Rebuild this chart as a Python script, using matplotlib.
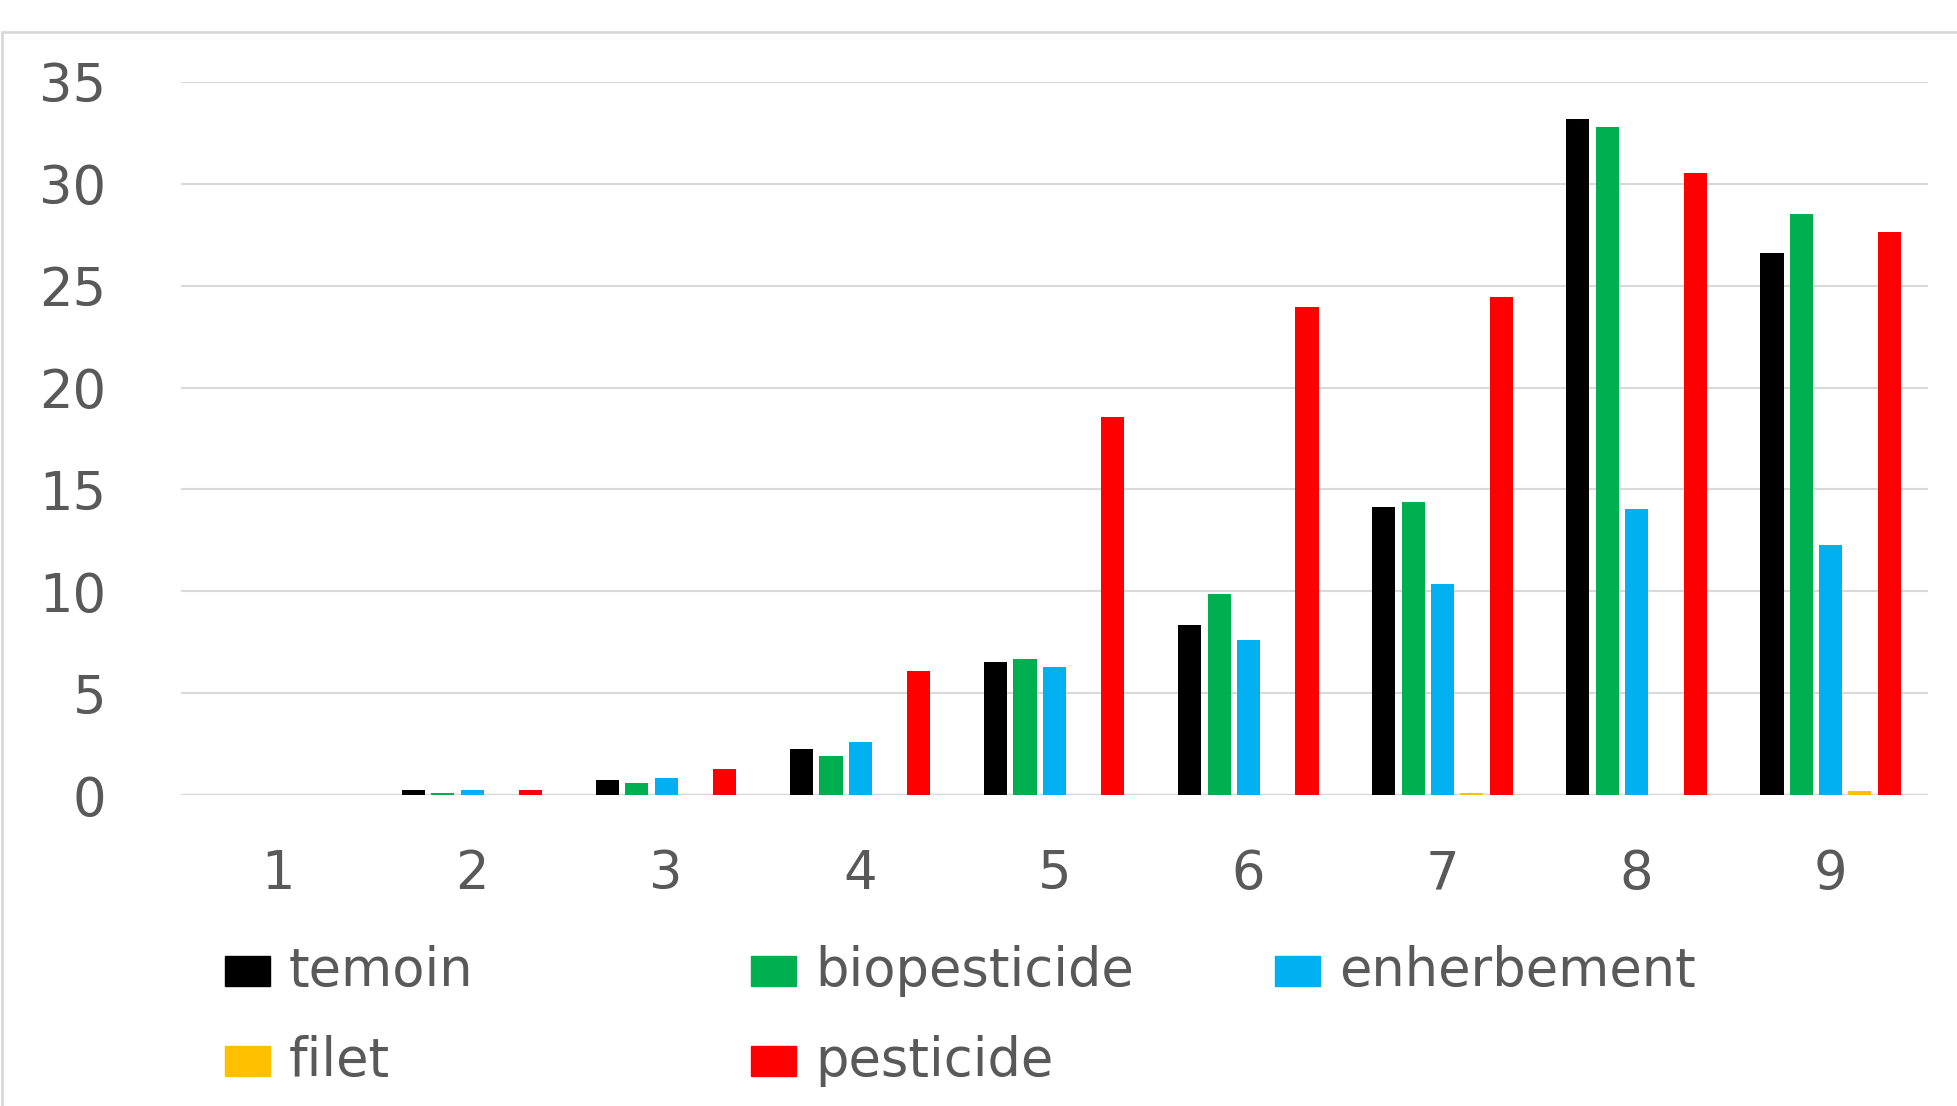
import matplotlib.pyplot as plt
from matplotlib.patches import Rectangle
import numpy as np

# categories and series
categories = ["1", "2", "3", "4", "5", "6", "7", "8", "9"]
temoin = [0, 0.25, 0.73, 2.27, 6.56, 8.34, 14.16, 33.17, 26.6]
biopesticide = [0, 0.1, 0.6, 1.9, 6.68, 9.87, 14.4, 32.8, 28.5]
enherbement = [0, 0.25, 0.83, 2.63, 6.3, 7.6, 10.36, 14.04, 12.26]
filet = [0, 0, 0, 0, 0, 0, 0.1, 0, 0.23]
pesticide = [0, 0.25, 1.3, 6.07, 18.58, 23.97, 24.46, 30.53, 27.65]

series_names = ["temoin", "biopesticide", "enherbement", "filet", "pesticide"]
series = [temoin, biopesticide, enherbement, filet, pesticide]
colors = ["#000000", "#00B050", "#00B0F0", "#FFC000", "#FF0000"]

txt_color = "#595959"
grid_color = "#d9d9d9"
fs = 38

fig = plt.figure(figsize=(19.57, 11.06), dpi=100)

# light chart-area border (top and left visible)
fig.add_artist(Rectangle((0.0008, -0.1), 1.2, 1.1 - 32 / 1106, transform=fig.transFigure,
                         fill=False, edgecolor=grid_color, linewidth=2))

ax = fig.add_axes([0.0925, 0.281, 0.8925, 0.645])

x = np.arange(1, len(categories) + 1)
slot = 0.151
width = 0.119
for i, (vals, c) in enumerate(zip(series, colors)):
    ax.bar(x + (i - 2) * slot, vals, width, color=c, zorder=3)

ax.set_xlim(0.5, 9.5)
ax.set_ylim(0, 35)
ax.set_yticks(range(0, 36, 5))
ax.set_xticks(x)
ax.set_xticklabels(categories)
ax.yaxis.grid(True, color=grid_color, linewidth=1.5, zorder=0)
ax.axhline(0, color=grid_color, linewidth=2.5, zorder=1)
for s in ax.spines.values():
    s.set_visible(False)
ax.tick_params(axis="both", length=0, labelsize=fs, labelcolor=txt_color)
ax.tick_params(axis="y", pad=54)
ax.tick_params(axis="x", pad=38)

# legend laid out like the original (row-major, fixed columns)
leg_pos = [(225, 971), (751, 971), (1275, 971), (225, 1061), (751, 1061)]
W, H = 1957, 1106
for (px, py), name, c in zip(leg_pos, series_names, colors):
    fig.add_artist(Rectangle((px / W, 1 - (py + 15) / H), 45 / W, 30 / H,
                             transform=fig.transFigure, color=c))
    fig.text((px + 64) / W, 1 - py / H, name, fontsize=fs, color=txt_color,
             va="center", ha="left")

plt.savefig("out.png", dpi=100)
